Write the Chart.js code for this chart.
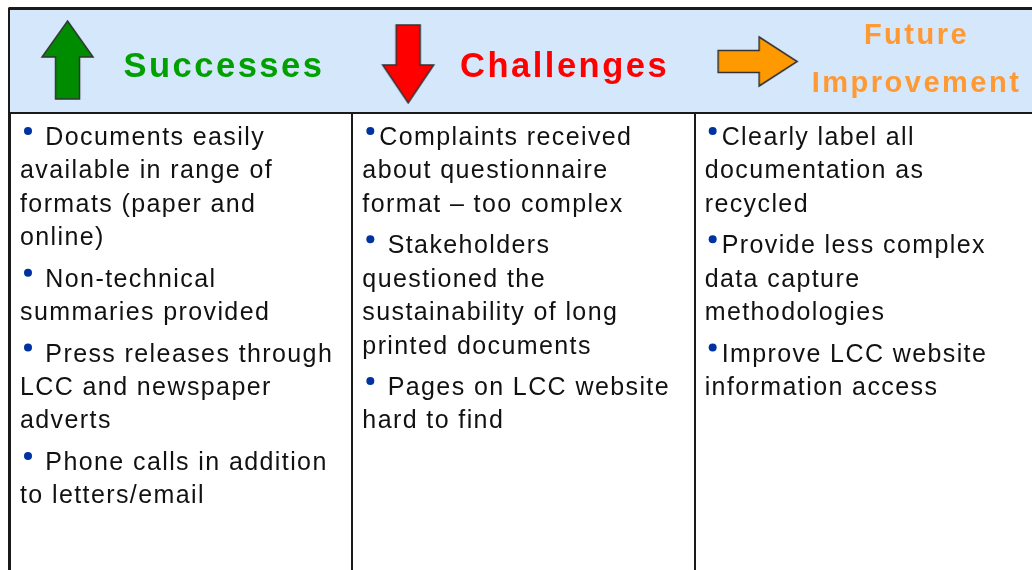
<!DOCTYPE html>
<html>
<head>
<meta charset="utf-8">
<script src="https://cdn.jsdelivr.net/npm/chart.js@4/dist/chart.umd.min.js"></script>
<style>
  html, body { margin: 0; padding: 0; background: #fff; overflow: hidden; }
  #wrap { width: 1037px; height: 600px; position: relative; }
</style>
</head>
<body>
<div id="wrap"><canvas id="chart"></canvas></div>
<script>
// column headings (one entry per column)
var columns = ["Successes", "Challenges", "Future Improvement"];
var titleLines = [["Successes"], ["Challenges"], ["Future", "Improvement"]];
var titleColors = ["#00a000", "#ff0000", "#ff9933"];
var arrowDirs = ["up", "down", "right"];
var arrowColors = ["#008c00", "#ff0000", "#ff9900"];

// bullet points, line breaks as in the slide ("|")
var successes = [
    " Documents easily|available in range of|formats (paper and|online)",
    " Non-technical|summaries provided",
    " Press releases through|LCC and newspaper|adverts",
    " Phone calls in addition|to letters/email"
];
var challenges = [
    "Complaints received|about questionnaire|format \u2013 too complex",
    " Stakeholders|questioned the|sustainability of long|printed documents",
    " Pages on LCC website|hard to find"
];
var improvements = [
    "Clearly label all|documentation as|recycled",
    "Provide less complex|data capture|methodologies",
    "Improve LCC website|information access"
];
var bullets = [successes, challenges, improvements];

// layout (y axis is in pixels below the top border)
var headerHeight = 105;
var firstBaseline = 137;
var lineHeight = 33.4;
var paraGap = 41.5;

function makeArrow(dir, fill) {
    var c = document.createElement("canvas");
    var p = 3, w, h;
    if (dir == "right") { w = 79; h = 49; } else { w = 51; h = 78; }
    c.width = w + p * 2;
    c.height = h + p * 2;
    var ctx = c.getContext("2d");
    ctx.translate(p, p);
    ctx.beginPath();
    if (dir == "up") {
        ctx.moveTo(w / 2, 0);
        ctx.lineTo(w, 36);
        ctx.lineTo(w / 2 + 12, 36);
        ctx.lineTo(w / 2 + 12, h);
        ctx.lineTo(w / 2 - 12, h);
        ctx.lineTo(w / 2 - 12, 36);
        ctx.lineTo(0, 36);
    } else if (dir == "down") {
        ctx.moveTo(w / 2 - 12, 0);
        ctx.lineTo(w / 2 + 12, 0);
        ctx.lineTo(w / 2 + 12, 40);
        ctx.lineTo(w, 40);
        ctx.lineTo(w / 2, h);
        ctx.lineTo(0, 40);
        ctx.lineTo(w / 2 - 12, 40);
    } else {
        ctx.moveTo(0, h / 2 - 11);
        ctx.lineTo(41, h / 2 - 11);
        ctx.lineTo(41, 0);
        ctx.lineTo(w, h / 2);
        ctx.lineTo(41, h);
        ctx.lineTo(41, h / 2 + 11);
        ctx.lineTo(0, h / 2 + 11);
    }
    ctx.closePath();
    ctx.fillStyle = fill;
    ctx.fill();
    ctx.lineWidth = 1.5;
    ctx.strokeStyle = "#333";
    ctx.stroke();
    return c;
}

var arrowImages = arrowDirs.map(function(d, i){
    return makeArrow(d, arrowColors[i]);
});

// header titles, bullet text and horizontal rules
var tablePlugin = {
    id: "tableText",
    afterDatasetsDraw: function(chart) {
        var ctx = chart.ctx;
        var x = chart.scales.x;
        var y = chart.scales.y;
        var colW = (chart.chartArea.right - chart.chartArea.left) / columns.length;
        var titleCenter = [0.625, 0.62, 0.648];
        var titleBase = [[69], [69], [36, 84]];
        var titleSize = [34.5, 34.5, 29];

        ctx.save();
        ctx.textBaseline = "alphabetic";
        for (var i = 0; i < columns.length; i++) {
            var colLeft = x.getPixelForValue(i) - colW / 2;
            // title
            ctx.font = "bold " + titleSize[i] + "px 'Liberation Sans', Arial, sans-serif";
            ctx.letterSpacing = "2.5px";
            ctx.fillStyle = titleColors[i];
            ctx.textAlign = "center";
            for (var t = 0; t < titleLines[i].length; t++) {
                ctx.fillText(titleLines[i][t], colLeft + colW * titleCenter[i], y.getPixelForValue(titleBase[i][t]));
            }
            // bullets
            ctx.textAlign = "left";
            ctx.font = "25px 'Liberation Sans', Arial, sans-serif";
            ctx.letterSpacing = "1.4px";
            var textLeft = colLeft + 10;
            var base = firstBaseline;
            for (var b = 0; b < bullets[i].length; b++) {
                var lines = bullets[i][b].split("|");
                var py = y.getPixelForValue(base);
                ctx.fillStyle = "#0033a0";
                ctx.beginPath();
                ctx.arc(textLeft + 8, py - 14, 4, 0, Math.PI * 2);
                ctx.fill();
                ctx.fillStyle = "#111";
                for (var l = 0; l < lines.length; l++) {
                    var ly = y.getPixelForValue(base + l * lineHeight);
                    ctx.fillText(lines[l], l == 0 ? textLeft + 17 : textLeft, ly);
                }
                base += (lines.length - 1) * lineHeight + paraGap;
            }
        }
        ctx.restore();
    },
    afterDraw: function(chart) {
        var ctx = chart.ctx;
        var y = chart.scales.y;
        var a = chart.chartArea;
        ctx.save();
        ctx.strokeStyle = "#1a1a1a";
        ctx.lineWidth = 3;
        ctx.beginPath();
        ctx.moveTo(a.left - 1.5, y.getPixelForValue(0) + 0.5);
        ctx.lineTo(a.right, y.getPixelForValue(0) + 0.5);
        ctx.stroke();
        ctx.lineWidth = 2;
        ctx.beginPath();
        ctx.moveTo(a.left, y.getPixelForValue(headerHeight));
        ctx.lineTo(a.right, y.getPixelForValue(headerHeight));
        ctx.stroke();
        ctx.restore();
    }
};

var chart = new Chart("chart", {
    type: "bar",
    data: {
        labels: columns,
        datasets: [
            {
                type: "scatter",
                xAxisID: "xa",
                data: [
                    {x: -0.332, y: 52},
                    {x: 0.663, y: 56},
                    {x: 1.684, y: 53.5}
                ],
                pointStyle: arrowImages,
                pointRadius: 1,
                clip: false,
                order: 1
            },
            {
                label: "header",
                data: columns.map(function(){ return [0, headerHeight]; }),
                backgroundColor: "#d4e7fb",
                borderWidth: 0,
                grouped: false,
                barPercentage: 1,
                categoryPercentage: 1,
                order: 2
            }
        ]
    },
    options: {
        responsive: true,
        maintainAspectRatio: false,
        animation: false,
        layout: { autoPadding: false, padding: { left: 10, top: 8, right: 0, bottom: 0 } },
        plugins: {
            legend: { display: false },
            tooltip: { enabled: false }
        },
        events: [],
        scales: {
            x: {
                z: 1,
                offset: true,
                ticks: { display: false },
                border: { display: false },
                grid: {
                    offset: true,
                    drawTicks: false,
                    color: "#1a1a1a",
                    lineWidth: function(c){ return c.index === 0 ? 3 : 2; }
                }
            },
            xa: {
                type: "linear",
                display: false,
                offset: false,
                grace: 0,
                min: -0.5,
                max: 2.5
            },
            y: {
                display: false,
                reverse: true,
                min: 0,
                max: 592
            }
        }
    },
    plugins: [tablePlugin]
});
</script>
</body>
</html>
